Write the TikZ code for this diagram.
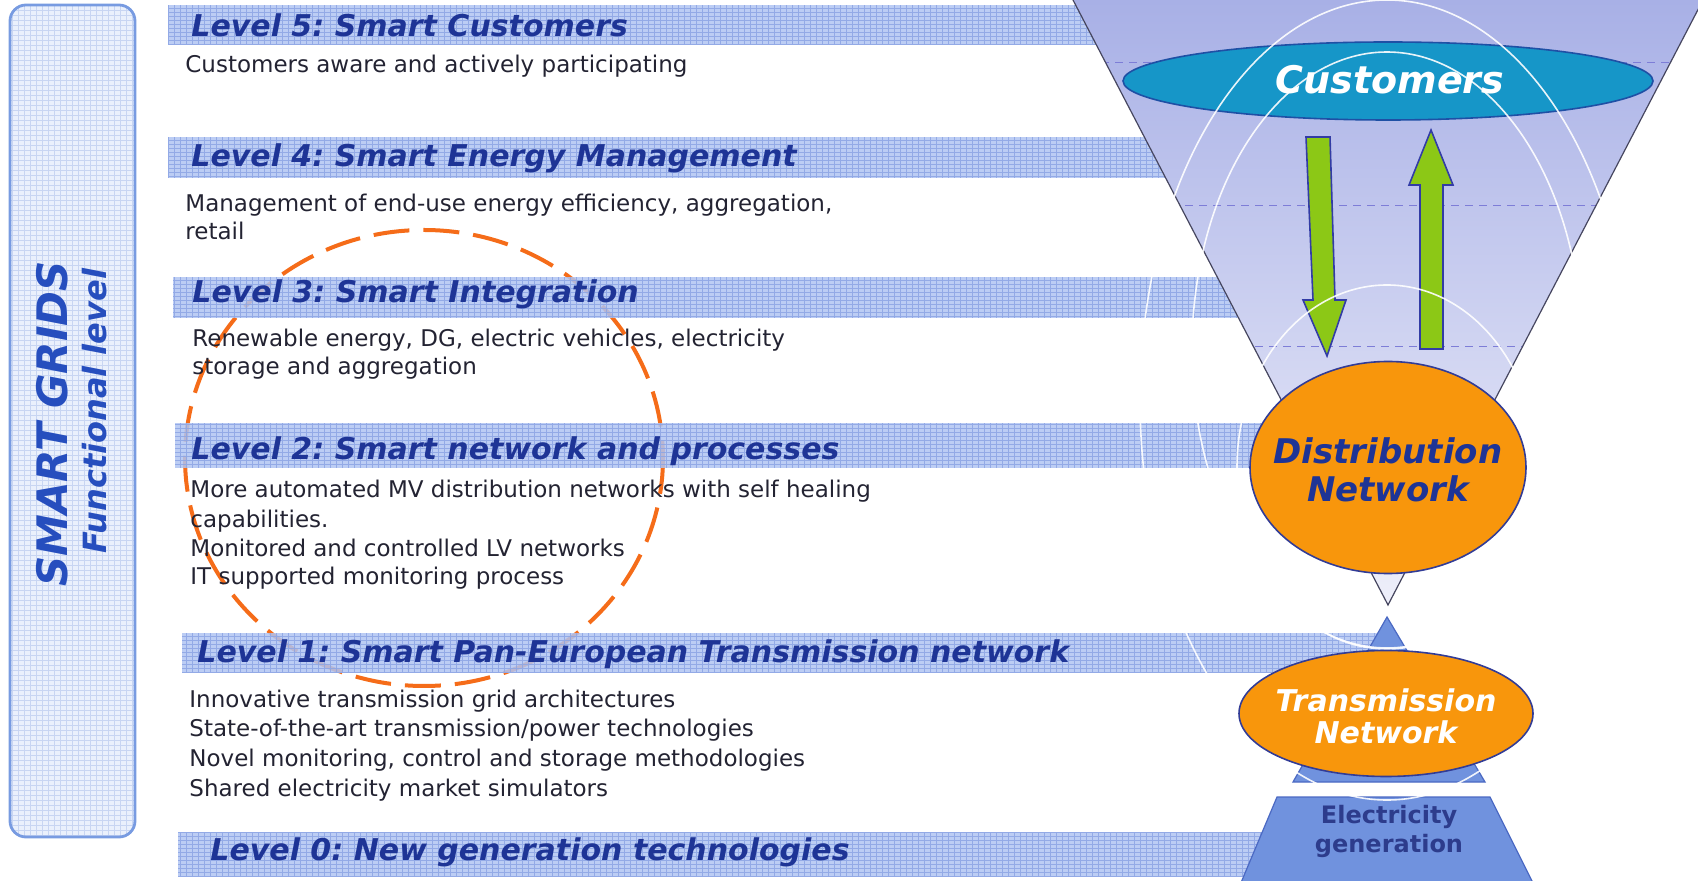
\documentclass[tikz,border=0pt]{standalone}
\usepackage{fontspec}
\setmainfont{DejaVu Sans}
\usetikzlibrary{shapes.geometric}
\frenchspacing
\definecolor{headblue}{RGB}{30,52,150}
\definecolor{sgblue}{RGB}{38,78,190}
\definecolor{bodygray}{RGB}{35,35,50}
\definecolor{bandfill}{RGB}{176,196,242}
\definecolor{bandgrid}{RGB}{140,165,228}
\definecolor{boxfill}{RGB}{234,240,252}
\definecolor{boxgrid}{RGB}{200,213,242}
\definecolor{boxline}{RGB}{120,155,225}
\definecolor{funneltop}{RGB}{168,176,230}
\definecolor{funnelbot}{RGB}{238,239,250}
\definecolor{funnelline}{RGB}{70,70,95}
\definecolor{dashblue}{RGB}{125,125,215}
\definecolor{custfill}{RGB}{22,150,200}
\definecolor{custline}{RGB}{30,80,165}
\definecolor{arrowgreen}{RGB}{140,200,22}
\definecolor{arrowline}{RGB}{50,60,165}
\definecolor{netorange}{RGB}{248,150,12}
\definecolor{netline}{RGB}{50,60,150}
\definecolor{pyrfill}{RGB}{112,146,222}
\definecolor{pyrline}{RGB}{75,105,195}
\definecolor{genblue}{RGB}{45,60,140}
\definecolor{circorange}{RGB}{245,108,25}
\begin{document}
\begin{tikzpicture}[x=0.5pt,y=-0.5pt,
  head/.style={font=\bfseries\itshape\fontsize{15}{18}\selectfont, text=headblue, anchor=base west, inner sep=0pt},
  body/.style={font=\fontsize{11.5}{14}\selectfont, text=bodygray, anchor=base west, inner sep=0pt},
  bandgridstyle/.style={draw=bandgrid, line width=0.3pt},
  ripple/.style={draw=white, line width=0.8pt, opacity=0.9},
  greenarrow/.style={fill=arrowgreen, draw=arrowline, line width=0.8pt, line join=miter},
  netnode/.style={ellipse, fill=netorange, draw=netline, line width=0.8pt, inner sep=0pt},
  pyr/.style={fill=pyrfill, draw=pyrline, line width=0.6pt}
]
\useasboundingbox (0,0) rectangle (1698,881);

% ---------- left box ----------
\path[fill=boxfill, rounded corners=8pt] (10,5) rectangle (135,837);
\begin{scope}
  \clip[rounded corners=8pt] (10,5) rectangle (135,837);
  \draw[boxgrid, line width=0.3pt, xstep=3pt, ystep=2.5pt] (10,5) grid (135,837);
\end{scope}
\draw[boxline, line width=1.4pt, rounded corners=8pt] (10,5) rectangle (135,837);
\node[rotate=90, font=\bfseries\itshape\fontsize{21}{24}\selectfont, text=sgblue, inner sep=0pt] (sg) at (52,424) {SMART GRIDS};
\node[rotate=90, font=\bfseries\itshape\fontsize{16}{19}\selectfont, text=sgblue, inner sep=0pt] (fl) at (95,411) {Functional level};

% ---------- orange dashed circle ----------
\draw[circorange, line width=2pt, dash pattern=on 18pt off 7pt] (424,458) ellipse [x radius=239, y radius=228];

% ---------- bands ----------
\foreach \xa/\ya/\yb in {168/5/45, 168/137/178, 173/277/318, 175/423/468, 182/633/673, 178/832/877}{
  \fill[bandfill, opacity=0.85] (\xa,\ya) rectangle (1390,\yb);
  \begin{scope}
    \clip (\xa,\ya) rectangle (1390,\yb);
    \draw[bandgridstyle, opacity=0.85, xstep=3pt, ystep=2pt] (\xa,\ya) grid (1390,\yb);
  \end{scope}
}

% ---------- headings ----------
\node[head] (h5) at (191,37) {Level 5: Smart Customers};
\node[head] (h4) at (191,167) {Level 4: Smart Energy Management};
\node[head] (h3) at (192,303) {Level 3: Smart Integration};
\node[head] (h2) at (191,460) {Level 2: Smart network and processes};
\node[head] (h1) at (197,663) {Level 1: Smart Pan-European Transmission network};
\node[head] (h0) at (210,860) {Level 0: New generation technologies};

% ---------- body texts ----------
\node[body] (b5a) at (185,73) {Customers aware and actively participating};
\node[body] (b4a) at (185,212) {Management of end-use energy efficiency, aggregation,};
\node[body] (b4b) at (185,240) {retail};
\node[body] (b3a) at (192,347) {Renewable energy, DG, electric vehicles, electricity};
\node[body] (b3b) at (192,375) {storage and aggregation};
\node[body] (b2a) at (190,498) {More automated MV distribution networks with self healing};
\node[body] (b2b) at (190,528) {capabilities.};
\node[body] (b2c) at (190,557) {Monitored and controlled LV networks};
\node[body] (b2d) at (190,585) {IT supported monitoring process};
\node[body] (b1a) at (189,708) {Innovative transmission grid architectures};
\node[body] (b1b) at (189,737) {State-of-the-art transmission/power technologies};
\node[body] (b1c) at (189,766) {Novel monitoring, control and storage methodologies};
\node[body] (b1d) at (189,796) {Shared electricity market simulators};

% ---------- funnel ----------
\coordinate (fTL) at (1073,0);
\coordinate (fTR) at (1703,0);
\coordinate (fApex) at (1388,605);
\shade[top color=funneltop, bottom color=funnelbot] (fTL) -- (fTR) -- (fApex) -- cycle;
\begin{scope}
  \clip (fTL) -- (fTR) -- (fApex) -- cycle;
  \foreach \yy in {63,206,347}{
    \draw[dashblue, line width=0.5pt, dash pattern=on 4pt off 3pt] (1073,\yy) -- (1703,\yy);
  }
\end{scope}
\draw[funnelline, line width=0.6pt] (fTL) -- (fApex) -- (fTR);

% ---------- customers ----------
\node[ellipse, fill=custfill, draw=custline, line width=0.8pt, minimum width=265pt, minimum height=39pt, inner sep=0pt] (cust) at (1388,81) {};
\node[font=\bfseries\itshape\fontsize{19}{22}\selectfont, text=white, inner sep=0pt] (custT) at (1390,80) {Customers};

% ---------- green arrows ----------
\draw[greenarrow] (1306,137) -- (1330,137) -- (1335,300) -- (1346,300) -- (1327,356) -- (1303,300) -- (1313,300) -- cycle;
\draw[greenarrow] (1420,349) -- (1420,185) -- (1409,185) -- (1431,130) -- (1453,185) -- (1443,185) -- (1443,349) -- cycle;

% ---------- pyramid ----------
\draw[pyr] (1387,617) -- (1485,782) -- (1293,782) -- cycle;
\draw[pyr] (1277,797) -- (1490,797) -- (1534,885) -- (1240,885) -- cycle;

% ---------- white ripples ----------
\draw[ripple] (1387,400) ellipse [x radius=247, y radius=400];
\draw[ripple] (1387,350) ellipse [x radius=195, y radius=298];
\draw[ripple] (1387,467) ellipse [x radius=150, y radius=182];

% ---------- networks ----------
\node[netnode, minimum width=138pt, minimum height=106pt] (dist) at (1388,467.5) {};
\node[font=\bfseries\itshape\fontsize{17}{19}\selectfont, text=headblue, align=center, inner sep=0pt] (distT) at (1388,470) {Distribution\\Network};
\node[netnode, minimum width=147pt, minimum height=63pt] (trans) at (1386,713.5) {};
\node[font=\bfseries\itshape\fontsize{15}{16}\selectfont, text=white, align=center, inner sep=0pt] (transT) at (1386,716) {Transmission\\Network};
\node[font=\bfseries\fontsize{12}{14.5}\selectfont, text=genblue, align=center, inner sep=0pt] (genT) at (1389,831) {Electricity\\generation};
\end{tikzpicture}
\end{document}
